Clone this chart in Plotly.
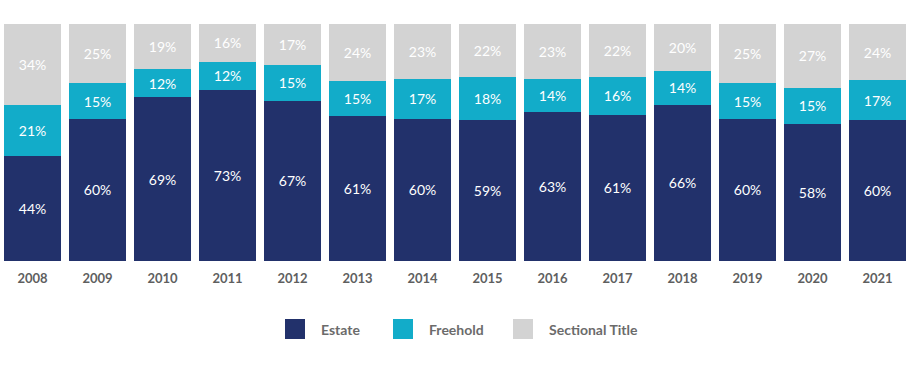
import plotly.graph_objects as go

years = ["2008", "2009", "2010", "2011", "2012", "2013", "2014",
         "2015", "2016", "2017", "2018", "2019", "2020", "2021"]
estate = [44, 60, 69, 73, 67, 61, 60, 59, 63, 61, 66, 60, 58, 60]
freehold = [21, 15, 12, 12, 15, 15, 17, 18, 14, 16, 14, 15, 15, 17]
sectional = [34, 25, 19, 16, 17, 24, 23, 22, 23, 22, 20, 25, 27, 24]

series_names = ["Estate", "Freehold", "Sectional Title"]
series_values = [estate, freehold, sectional]
colors = ["#22316b", "#12acc9", "#d3d3d3"]

FONT = "Lato, 'Source Sans Pro', 'Open Sans', sans-serif"
W, H = 910, 374
M_T, M_B = 24, 113

fig = go.Figure()
for name, vals, col in zip(series_names, series_values, colors):
    fig.add_trace(go.Bar(
        x=years, y=vals, name=name, marker=dict(color=col, line=dict(width=0)),
        text=vals, texttemplate="%{text}%", textposition="inside",
        insidetextanchor="middle", textangle=0,
        textfont=dict(color="white", size=14, family=FONT),
        showlegend=False, hoverinfo="x+y+name",
    ))

# legend drawn in paper coordinates
plot_h = H - M_T - M_B
def py(pix):
    return (H - M_B - pix) / plot_h
def px(pix):
    return pix / W

shapes = []
annotations = []
leg_items = [(285, 319), (393, 427), (513, 547)]
for (sx, tx), name, col in zip(leg_items, series_names, colors):
    shapes.append(dict(type="rect", xref="paper", yref="paper",
                       x0=px(sx), x1=px(sx + 20), y0=py(339), y1=py(319),
                       fillcolor=col, line=dict(width=0)))
    annotations.append(dict(xref="paper", yref="paper", x=px(tx), y=py(329),
                            xanchor="left", yanchor="middle", showarrow=False,
                            text="<b>%s</b>" % name,
                            font=dict(size=14, color="#6b6b6b", family=FONT)))

fig.update_layout(
    width=W, height=H,
    barmode="stack", barnorm="percent", bargap=0.11,
    margin=dict(l=0, r=0, t=M_T, b=M_B),
    plot_bgcolor="white", paper_bgcolor="white",
    xaxis=dict(showgrid=False, showline=False, zeroline=False, ticks="",
               ticklabelstandoff=8,
               tickfont=dict(size=13, color="#5f5f5f", family=FONT),
               tickprefix="<b>", ticksuffix="</b>"),
    yaxis=dict(visible=False, range=[0, 100]),
    shapes=shapes, annotations=annotations,
    uniformtext=dict(mode=False),
)

fig.write_html("out.html", config={"displayModeBar": False},
               post_script="document.body.style.margin='0';")
